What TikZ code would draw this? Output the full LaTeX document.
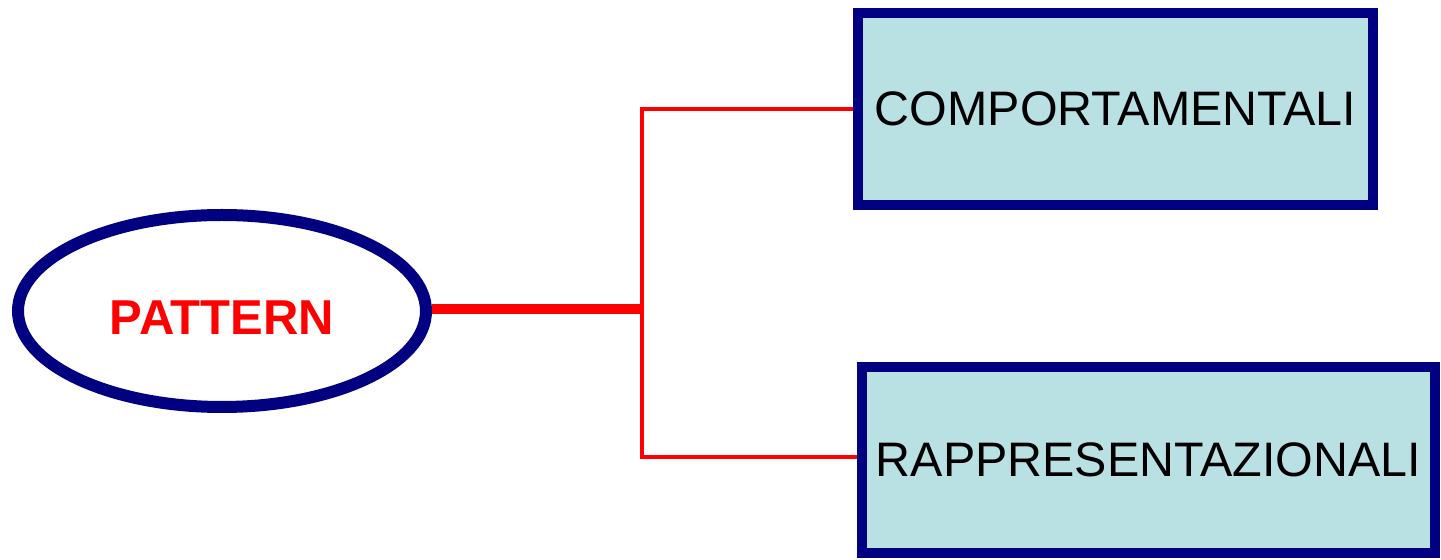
\documentclass[tikz,border=0pt]{standalone}
\usepackage{fontspec}
\setmainfont{Liberation Sans}
\definecolor{navy}{HTML}{000080}
\definecolor{boxfill}{HTML}{B9E0E3}
\tikzset{
  root/.style={ellipse,draw=navy,line width=6pt,minimum width=204pt,minimum height=96pt,inner sep=0pt,
    text=red,text height=24pt,font=\fontsize{24.5}{28}\selectfont\bfseries},
  leaf/.style={rectangle,draw=navy,fill=boxfill,line width=5pt,inner sep=0pt,
    font=\fontsize{24.2}{28}\selectfont},
  trunk/.style={draw=red,line width=5pt},
  branch/.style={draw=red,line width=2pt}
}
\usetikzlibrary{shapes.geometric}
\begin{document}
\begin{tikzpicture}[x=0.5pt,y=-0.5pt]

\useasboundingbox (0,0) rectangle (1441,560);

\node[root] (pattern) at (222,311) {PATTERN};
\node[leaf,minimum width=257.5pt,minimum height=96pt] (comp) at (1115.5,109) {COMPORTAMENTALI};
\node[leaf,minimum width=286.5pt,minimum height=93pt] (rapp) at (1148.5,460) {RAPPRESENTAZIONALI};

\coordinate (split) at (642,309);

\path [trunk]
    (pattern.east |- split) -- (split)
;

\path [branch]
    (comp.west) -| (split) |- ([yshift=1.5pt]rapp.west)
;

\end{tikzpicture}
\end{document}
